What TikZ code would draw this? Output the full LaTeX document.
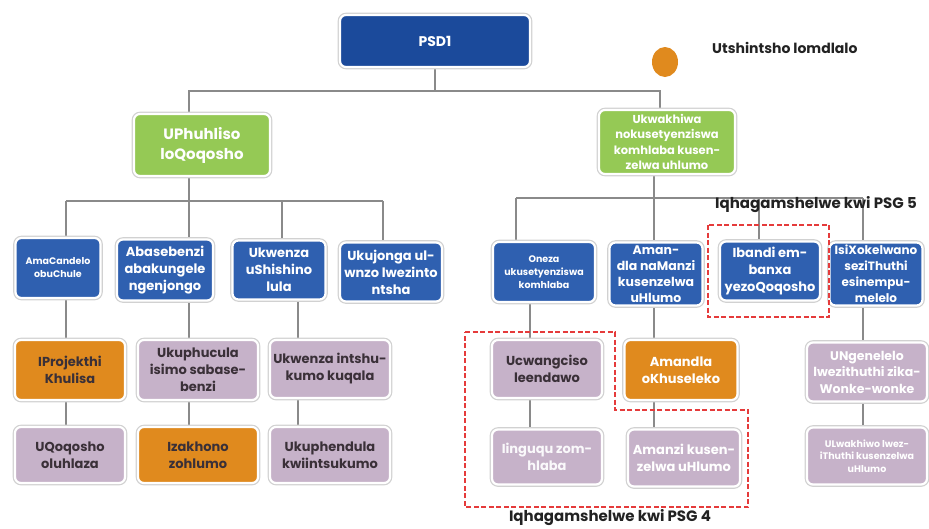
\documentclass[tikz,border=0pt]{standalone}
\usepackage{fontspec}
\setmainfont{Poppins}
\usetikzlibrary{backgrounds,shapes.geometric}
\definecolor{cPSD}{HTML}{1B4A9B}
\definecolor{cBlue}{HTML}{2F60B0}
\definecolor{cGreen}{HTML}{95C955}
\definecolor{cOrange}{HTML}{E08A1E}
\definecolor{cLav}{HTML}{C6B2C9}
\definecolor{cConn}{HTML}{8A8A8A}
\definecolor{cDark}{HTML}{3A3038}
\definecolor{cRed}{HTML}{E53B3B}
\definecolor{cLabel}{HTML}{222222}
\tikzset{
  box/.style={rounded corners=6pt, draw=white, line width=2.2pt,
    preaction={draw=black!18, line width=4.6pt},
    align=center, inner sep=1pt,
    font=\bfseries\fontsize{13}{17}\selectfont},
  bluebox/.style={box, fill=cBlue, text=white},
  greenbox/.style={box, fill=cGreen, text=white},
  orangebox/.style={box, fill=cOrange},
  lavbox/.style={box, fill=cLav},
  sz/.style 2 args={minimum width=#1, minimum height=#2},
  conn/.style={draw=cConn, line width=2.3pt},
  reddash/.style={draw=cRed, line width=2.5pt, dash pattern=on 5pt off 2.5pt},
  lbl/.style={text=cLabel, font=\bfseries\fontsize{14}{17}\selectfont, inner sep=0pt}
}
\begin{document}
\begin{tikzpicture}[x=1pt,y=-1pt]
\useasboundingbox (0,0) rectangle (929,528);

% columns and bus levels
\coordinate (x66) at (66,0);
\coordinate (x189) at (189,0);
\coordinate (x282) at (282,0);
\coordinate (x298) at (298,0);
\coordinate (x383) at (383,0);
\coordinate (x516) at (516,0);
\coordinate (x530) at (530,0);
\coordinate (x654) at (654,0);
\coordinate (x660) at (660,0);
\coordinate (x759) at (759,0);
\coordinate (x863) at (863,0);
\coordinate (yT) at (0,91);
\coordinate (yL) at (0,201);
\coordinate (yR) at (0,198);

% top
\node[box, fill=cPSD, text=white, sz={190pt}{52pt}, font=\bfseries\fontsize{14}{17}\selectfont] (psd) at (435,41) {PSD1};
\node[greenbox, sz={136pt}{62pt}, font=\bfseries\fontsize{15}{20}\selectfont] (uph) at (202,145) {UPhuhliso\\loQoqosho};
\node[greenbox, sz={136pt}{64pt}, font=\bfseries\fontsize{11.5}{15.5}\selectfont] (ukw) at (667,142) {Ukwakhiwa\\nokusetyenziswa\\komhlaba kusen-\\zelwa uhlumo};

\node[fill=cOrange, ellipse, minimum width=26pt, minimum height=30pt, inner sep=0pt] (dot) at (665,62) {};
\node[lbl, anchor=west] (legend) at (712,48) {Utshintsho lomdlalo};

% left level 2
\node[bluebox, sz={85pt}{60pt}, font=\bfseries\fontsize{9.5}{13}\selectfont] (a1) at (58,268) {AmaCandelo\\obuChule};
\node[bluebox, sz={96pt}{61pt}] (a2) at (165,270) {Abasebenzi\\abakungele\\ngenjongo};
\node[bluebox, sz={93pt}{59pt}] (a3) at (279,270) {Ukwenza\\uShishino\\lula};
\node[bluebox, sz={102pt}{59pt}] (a4) at (391,272) {Ukujonga ul-\\wnzo lwezinto\\ntsha};

% left level 3
\node[orangebox, text=cDark, sz={110pt}{60pt}] (b1) at (70,370) {IProjekthi\\Khulisa};
\node[lavbox, text=cDark, sz={120pt}{60pt}] (b2) at (198,370) {Ukuphucula\\isimo sabase-\\benzi};
\node[lavbox, text=cDark, sz={120pt}{58pt}] (b3) at (330,369) {Ukwenza intshu-\\kumo kuqala};

% left level 4
\node[lavbox, text=cDark, sz={110pt}{56pt}] (c1) at (70,455) {UQoqosho\\oluhlaza};
\node[orangebox, text=cDark, sz={120pt}{56pt}] (c2) at (198,455) {Izakhono\\zohlumo};
\node[lavbox, text=cDark, sz={120pt}{56pt}] (c3) at (330,455) {Ukuphendula\\kwiintsukumo};

% right level 2
\node[bluebox, sz={102pt}{60pt}, font=\bfseries\fontsize{9.5}{13}\selectfont] (d1) at (544,272) {Oneza\\ukusetyenziswa\\komhlaba};
\node[bluebox, sz={93pt}{63pt}, font=\bfseries\fontsize{12.5}{16}\selectfont] (d2) at (656,274) {Aman-\\dla naManzi\\kusenzelwa\\uHlumo};
\node[bluebox, sz={100pt}{59pt}] (d3) at (770,271) {Ibandi em-\\banxa\\yezoQoqosho};
\node[bluebox, sz={93pt}{63pt}, font=\bfseries\fontsize{12}{16}\selectfont] (d4) at (876,274) {IsiXokelwano\\seziThuthi\\esinempu-\\melelo};

% right level 3
\node[lavbox, text=cDark, sz={110pt}{58pt}] (e1) at (547,369) {Ucwangciso\\leendawo};
\node[orangebox, text=white, sz={113pt}{60pt}] (e2) at (681,370) {Amandla\\oKhuseleko};
\node[lavbox, text=white, sz={120pt}{59pt}, font=\bfseries\fontsize{12.5}{16.5}\selectfont] (e3) at (867,372) {UNgenelelo\\lwezithuthi zika-\\Wonke-wonke};

% right level 4
\node[lavbox, text=white!92!cLav, sz={110pt}{55pt}] (f1) at (547,457) {Iinguqu zom-\\hlaba};
\node[lavbox, text=white, sz={112pt}{57pt}] (f2) at (684,458) {Amanzi kusen-\\zelwa uHlumo};
\node[lavbox, text=white, sz={120pt}{57pt}, font=\bfseries\fontsize{9.5}{12.5}\selectfont] (f3) at (867,456) {ULwakhiwo lwez-\\iThuthi kusenzelwa\\uHlumo};

% connectors
\begin{pgfonlayer}{background}
\draw[conn] (psd.south) -- (psd.south |- yT);
\draw[conn] (uph.north -| x189) -- (x189 |- yT) -- (x660 |- yT) -- (ukw.north -| x660);
\draw[conn] (uph.south -| x189) -- (x189 |- yL);
\draw[conn] (x66 |- yL) -- (x383 |- yL);
\draw[conn] (x66 |- yL) -- (a1.north -| x66);
\draw[conn] (x189 |- yL) -- (a2.north -| x189);
\draw[conn] (x282 |- yL) -- (a3.north -| x282);
\draw[conn] (x383 |- yL) -- (a4.north -| x383);
\draw[conn] (a1.south -| x66) -- (b1.north -| x66);
\draw[conn] (b1.south -| x66) -- (c1.north -| x66);
\draw[conn] (a2.south -| x189) -- (b2.north -| x189);
\draw[conn] (b2.south -| x189) -- (c2.north -| x189);
\draw[conn] (a3.south -| x298) -- (b3.north -| x298);
\draw[conn] (b3.south -| x298) -- (c3.north -| x298);
\draw[conn] (ukw.south -| x654) -- (x654 |- yR);
\draw[conn] (x516 |- yR) -- (x863 |- yR);
\draw[conn] (x516 |- yR) -- (d1.north -| x516);
\draw[conn] (x654 |- yR) -- (d2.north -| x654);
\draw[conn] (x759 |- yR) -- (d3.north -| x759);
\draw[conn] (x863 |- yR) -- (d4.north -| x863);
\draw[conn] (d1.south -| x530) -- (e1.north -| x530);
\draw[conn] (e1.south -| x530) -- (f1.north -| x530);
\draw[conn] (d2.south -| x654) -- (e2.north -| x654);
\draw[conn] (e2.south -| x654) -- (f2.north -| x654);
\draw[conn] (d4.south -| x863) -- (e3.north -| x863);
\draw[conn] (e3.south -| x863) -- (f3.north -| x863);
\end{pgfonlayer}

% PSG groups
\draw[reddash] (708,225) rectangle (829,317);
\node[lbl, font=\bfseries\fontsize{15}{18}\selectfont] (psg5) at (816,205) {Iqhagamshelwe kwi PSG 5};
\draw[reddash] (465,332) -- (615,332) -- (615,410) -- (748,410) -- (748,507) -- (465,507) -- cycle;
\node[lbl, font=\bfseries\fontsize{15}{18}\selectfont] (psg4) at (610,518) {Iqhagamshelwe kwi PSG 4};
\end{tikzpicture}
\end{document}
